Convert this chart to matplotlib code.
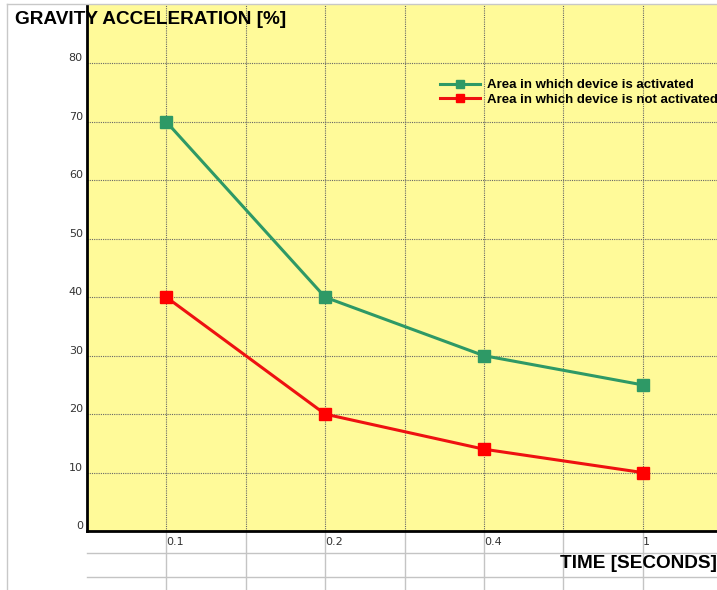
import matplotlib
matplotlib.use("Agg")
import matplotlib.pyplot as plt
from matplotlib.lines import Line2D

plt.rcParams['font.family'] = ['Liberation Sans', 'DejaVu Sans']

times = ['0.1', '0.2', '0.4', '1']
activated = [70, 40, 30, 25]
not_activated = [40, 20, 14, 10]
labels = ['Area in which device is activated', 'Area in which device is not activated']
yticks = [0, 10, 20, 30, 40, 50, 60, 70, 80]

W, H = 717, 590
fig = plt.figure(figsize=(W/100., H/100.), dpi=100)
fig.patch.set_facecolor('white')

# plot area runs a little past the right edge, like the cropped original
ax = fig.add_axes([87./W, 59./H, 635./W, 526./H])
ax.set_facecolor('#FFFA99')

x = list(range(len(times)))
ax.plot(x, activated, color='#2E9966', lw=2.2, marker='s', ms=8,
        mfc='#2E9966', mec='#2E9966', label=labels[0], zorder=4)
ax.plot(x, not_activated, color='#EE1111', lw=2.2, marker='s', ms=8,
        mfc='#FF0000', mec='#FF0000', label=labels[1], zorder=4)

ax.set_xlim(-0.5, 3.5)
ax.set_ylim(0, 90)
ax.set_yticks(yticks)
ax.set_xticks(x)
ax.set_xticklabels(times)
ax.set_xticks([-0.5 + 0.5*i for i in range(9)], minor=True)

ax.grid(True, which='both', axis='x', color='#666666', ls=(0, (1, 1)), lw=0.8)
ax.grid(True, which='major', axis='y', color='#666666', ls=(0, (1, 1)), lw=0.8)
ax.set_axisbelow(True)

for s in ['top', 'right']:
    ax.spines[s].set_visible(False)
ax.spines['left'].set_linewidth(2)
ax.spines['bottom'].set_linewidth(2)

ax.tick_params(which='both', length=0)
ax.tick_params(axis='y', labelsize=8, labelcolor='#333333', pad=3)
ax.tick_params(axis='x', labelsize=8, labelcolor='#333333', pad=4)
for t in ax.get_yticklabels() + ax.get_xticklabels():
    t.set_family('DejaVu Sans')
for t in ax.get_yticklabels():
    t.set_va('bottom')
for t in ax.get_xticklabels():
    t.set_ha('left')

# table-like grid under the chart
tr = ax.get_xaxis_transform()
for yy in [-22./526, -46./526]:
    ax.plot([-0.5, 3.5], [yy, yy], color='#C4C4C4', lw=1, transform=tr, clip_on=False)
for xx in [0.5*i for i in range(8)]:
    ax.plot([xx, xx], [0, -60./526], color='#C4C4C4', lw=1, transform=tr, clip_on=False)

# frame lines of the screenshot
fig.add_artist(Line2D([7./W, 7./W], [0, 1 - 4./H], color='#C8C8C8', lw=1))
fig.add_artist(Line2D([7./W, 1], [1 - 4./H, 1 - 4./H], color='#C8C8C8', lw=1))

fig.text(15./W, 1 - 20./H, 'GRAVITY ACCELERATION [%]', fontsize=13.7,
         fontweight='bold', ha='left', va='center')
fig.text(717./W, 1 - 563./H, 'TIME [SECONDS]', fontsize=13.7,
         fontweight='bold', ha='right', va='center')

ax.legend(loc='upper left', bbox_to_anchor=(440./W, 1 - 79./H),
          bbox_transform=fig.transFigure, frameon=False,
          prop={'weight': 'bold', 'size': 9.5}, handlelength=3.0,
          handletextpad=0.55, labelspacing=0.2, borderpad=0, borderaxespad=0,
          markerscale=0.75)

fig.savefig('out.png', dpi=100)
